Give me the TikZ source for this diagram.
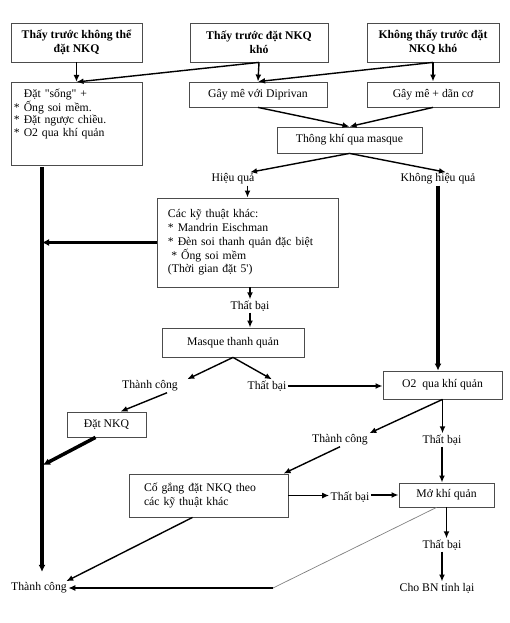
\documentclass[tikz,border=0pt]{standalone}
\usepackage{fontspec}
\setmainfont{Liberation Serif}[Ligatures=TeXOff]
\usetikzlibrary{calc,arrows.meta}

\begin{document}
\begin{tikzpicture}[x=0.03cm,y=-0.03cm,
	box/.style={draw=black!70,line width=0.7pt,align=center,inner sep=2pt,font=\fontsize{10}{12}\selectfont},
	head/.style={box,font=\fontsize{10}{12}\selectfont\bfseries,minimum height=1.17cm},
	lbl/.style={inner sep=1pt,font=\fontsize{10}{12}\selectfont},
	arr/.style={line width=1.2pt,-{Latex[length=6pt,width=5pt]}},
	fat/.style={line width=3pt,-{Latex[length=6pt,width=6pt]}}]
\useasboundingbox (0,0) rectangle (509,623);

\node[head,minimum width=3.93cm] (noint) at (76.5,42.5) {Thấy trước không thể\\đặt NKQ};
\node[head,minimum width=4.14cm] (hard) at (259,42.5) {Thấy trước đặt NKQ\\khó};
\node[head,minimum width=3.96cm] (unseen) at (433,42.5) {Không thấy trước đặt\\NKQ khó};

\node[box,anchor=north,align=left,text width=3.75cm,inner xsep=0.09cm,inner ysep=0.2cm,
	text depth=1.85cm,font=\fontsize{10}{10.5}\selectfont] (awake) at (76.5,82)
	{\hspace*{3mm}Đặt "sống" +\\{*} Ống soi mềm.\\{*} Đặt ngược chiều.\\{*} O2 qua khí quản};
\node[box,minimum width=4.14cm,minimum height=0.75cm] (dipri) at (258,94.5) {Gây mê với Diprivan};
\node[box,minimum width=3.96cm,minimum height=0.75cm] (relax) at (433,94.5) {Gây mê + dãn cơ};
\node[box,minimum width=4.35cm,minimum height=0.78cm] (mask) at (349.5,140) {Thông khí qua masque};

\node[lbl] (eff) at (233,179) {Hiệu quả};
\node[lbl] (noeff) at (438,179) {Không hiệu quả};

\node[box,align=left,text width=4.77cm,inner xsep=0.33cm,minimum height=2.67cm,
	font=\fontsize{10}{11.7}\selectfont] (other) at (247.5,242.5)
	{Các kỹ thuật khác:\\{*} Mandrin Eischman\\{*} Đèn soi thanh quản đặc biệt\\\hspace*{1mm}{*} Ống soi mềm\\(Thời gian đặt 5')};
\node[lbl] (fail1) at (250,306) {Thất bại};
\node[box,minimum width=4.26cm,minimum height=0.87cm] (lma) at (233,342.5) {Masque thanh quản};
\node[lbl] (ok1) at (150,386) {Thành công};
\node[lbl] (fail2) at (267,386) {Thất bại};
\node[box,minimum width=3.57cm,minimum height=0.84cm] (o2) at (442.5,385) {O2\ \ qua khí quản};
\node[box,minimum width=2.37cm,minimum height=0.75cm] (nkq) at (106.5,424.5) {Đặt NKQ};
\node[lbl] (ok2) at (340,440) {Thành công};
\node[lbl] (fail3) at (442,440) {Thất bại};
\node[box,align=left,text width=3.87cm,inner xsep=0.45cm,minimum height=1.29cm,
	font=\fontsize{10}{11.9}\selectfont] (retry) at (208.5,495.5)
	{Cố gắng đặt NKQ theo\\các kỹ thuật khác};
\node[lbl] (fail4) at (350,497) {Thất bại};
\node[box,minimum width=2.85cm,minimum height=0.72cm] (trach) at (446.5,495) {\raisebox{-1mm}{Mở khí quản}};
\node[lbl] (fail5) at (442,545) {Thất bại};
\node[lbl] (wake) at (437,588) {Cho BN tỉnh lại};
\node[lbl] (okend) at (39,588) {Thành công};

\coordinate (lt) at (42,167);
\coordinate (lk) at (43,465);
\coordinate (bend) at (273,588);

\draw[arr] (noint.south) -- (awake.north);
\draw[arr] (hard.south) -- (dipri.north);
\draw[arr] (hard.south) -- (awake.north);
\draw[arr] (unseen.south) -- (relax.north);
\draw[arr] (unseen.south) -- (dipri.north);
\draw[arr] (dipri.south) -- (mask.north);
\draw[arr] (relax.south) -- (mask.north);
\draw[arr] (mask.south) -- ($(eff.north)+(17,0)$);
\draw[arr] (mask.south) -- ($(noeff.north)+(8,0)$);
\draw[arr] (eff.south -| other.north) -- (other.north);
\draw[fat] (noeff.south) -- (noeff.south |- o2.north);
\draw[fat] (other.west) -- (other.west -| lt);
\draw[fat,shorten >=8pt] (lt) -- (lt |- okend.north);
\draw[arr] (other.south -| fail1.north) -- (fail1.north);
\draw[arr] (fail1.south) -- (fail1.south |- lma.north);
\draw[arr] (lma.south) -- ($(ok1.north east)+(8,0)$);
\draw[arr] (lma.south) -- ($(fail2.north)+(5,0)$);
\draw[arr] (fail2.east) -- (fail2.east -| o2.west);
\draw[arr] ($(ok1.south)+(17,0)$) -- ($(nkq.north)+(14,0)$);
\draw[fat] ($(nkq.south)+(-11,0)$) -- (lk);
\draw[arr] (o2.south) -- (ok2.north east);
\draw[arr] (o2.south) -- (o2.south |- fail3.north);
\draw[arr] (ok2.south) -- ($(retry.north)+(75,0)$);
\draw[arr] (fail3.south) -- (fail3.south |- trach.north);
\draw[arr] (retry.east) -- (retry.east -| fail4.west);
\draw[arr] (fail4.east |- trach.west) -- (trach.west);
\draw[arr] (trach.south) -- (trach.south |- fail5.north);
\draw[arr] (fail5.south) -- (fail5.south |- wake.north);
\draw[arr] ($(retry.south)+(-16,0)$) -- ($(okend.north east)+(-2,0)$);
\draw[gray,line width=0.6pt] ($(trach.south)+(-10,0)$) -- (bend);
\draw[arr] (bend) -- (okend.east);
\end{tikzpicture}
\end{document}
